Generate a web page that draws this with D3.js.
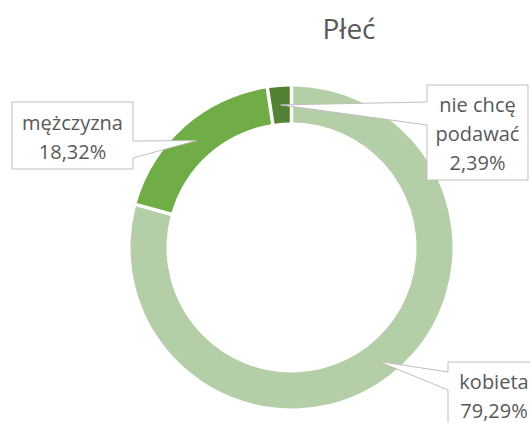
<!DOCTYPE html>
<html lang="pl">
<head>
  <meta charset="UTF-8">
  <title>Płeć</title>
  <script src="https://cdnjs.cloudflare.com/ajax/libs/d3/7.8.5/d3.min.js"></script>
  <style>
    body { margin: 0; padding: 0; background: #fff; }
    svg { display: block; font-family: "Open Sans", sans-serif; }
  </style>
</head>
<body>
<svg id="chart" width="530" height="423"></svg>
<script>
  // data
  const categories = ["kobieta", "mężczyzna", "nie chcę podawać"];
  const values = [79.29, 18.32, 2.39];
  const labelLines = [["kobieta", "79,29%"], ["mężczyzna", "18,32%"], ["nie chcę", "podawać", "2,39%"]];
  const colors = ["#b4cfa7", "#70ad47", "#548235"];

  const svg = d3.select("#chart"),
        cx = 291.5, cy = 247.5,
        outerR = 161, innerR = 125,
        textColor = "#595959";

  svg.append("text")
    .attr("x", 349).attr("y", 39)
    .attr("text-anchor", "middle")
    .attr("font-size", 28)
    .attr("fill", textColor)
    .text("Płeć");

  const pie = d3.pie().sort(null).value(d => d)(values);
  const gap = 3.5;
  const arc = d3.arc()
    .innerRadius(innerR).outerRadius(outerR)
    .padRadius(outerR).padAngle(gap / outerR);

  const g = svg.append("g").attr("transform", `translate(${cx},${cy})`);
  g.selectAll("path")
    .data(pie)
    .join("path")
    .attr("d", arc)
    .attr("fill", (d, i) => colors[i]);

  // callout boxes: position, size, pointer side and pointer base, first text baseline
  const boxes = [
    { x: 448, y: 362, w: 92, h: 80, side: "left", b0: 372, b1: 390, base: 389 },
    { x: 12, y: 102, w: 121, h: 67, side: "right", b0: 141, b1: 158, base: 130 },
    { x: 427, y: 85, w: 101, h: 95, side: "left", b0: 102, b1: 125, base: 112 }
  ];
  const midR = (innerR + outerR) / 2;
  const tipArc = d3.arc().innerRadius(midR).outerRadius(midR);

  pie.forEach((d, i) => {
    const b = boxes[i];
    const c = tipArc.centroid(d);
    const tip = [cx + c[0], cy + c[1]];
    let pts;
    if (b.side === "left") {
      pts = [[b.x, b.y], [b.x + b.w, b.y], [b.x + b.w, b.y + b.h], [b.x, b.y + b.h],
             [b.x, b.b1], tip, [b.x, b.b0]];
    } else {
      pts = [[b.x, b.y], [b.x + b.w, b.y], [b.x + b.w, b.b0], tip, [b.x + b.w, b.b1],
             [b.x + b.w, b.y + b.h], [b.x, b.y + b.h]];
    }
    svg.append("path")
      .attr("d", d3.line()(pts) + "Z")
      .attr("fill", "#fff")
      .attr("stroke", "#bfbfbf")
      .attr("stroke-width", 1);

    const lh = 29;
    labelLines[i].forEach((t, j) => {
      svg.append("text")
        .attr("x", b.x + b.w / 2)
        .attr("y", b.base + j * lh)
        .attr("text-anchor", "middle")
        .attr("font-size", 20)
        .attr("fill", textColor)
        .text(t);
    });
  });
</script>
</body>
</html>
